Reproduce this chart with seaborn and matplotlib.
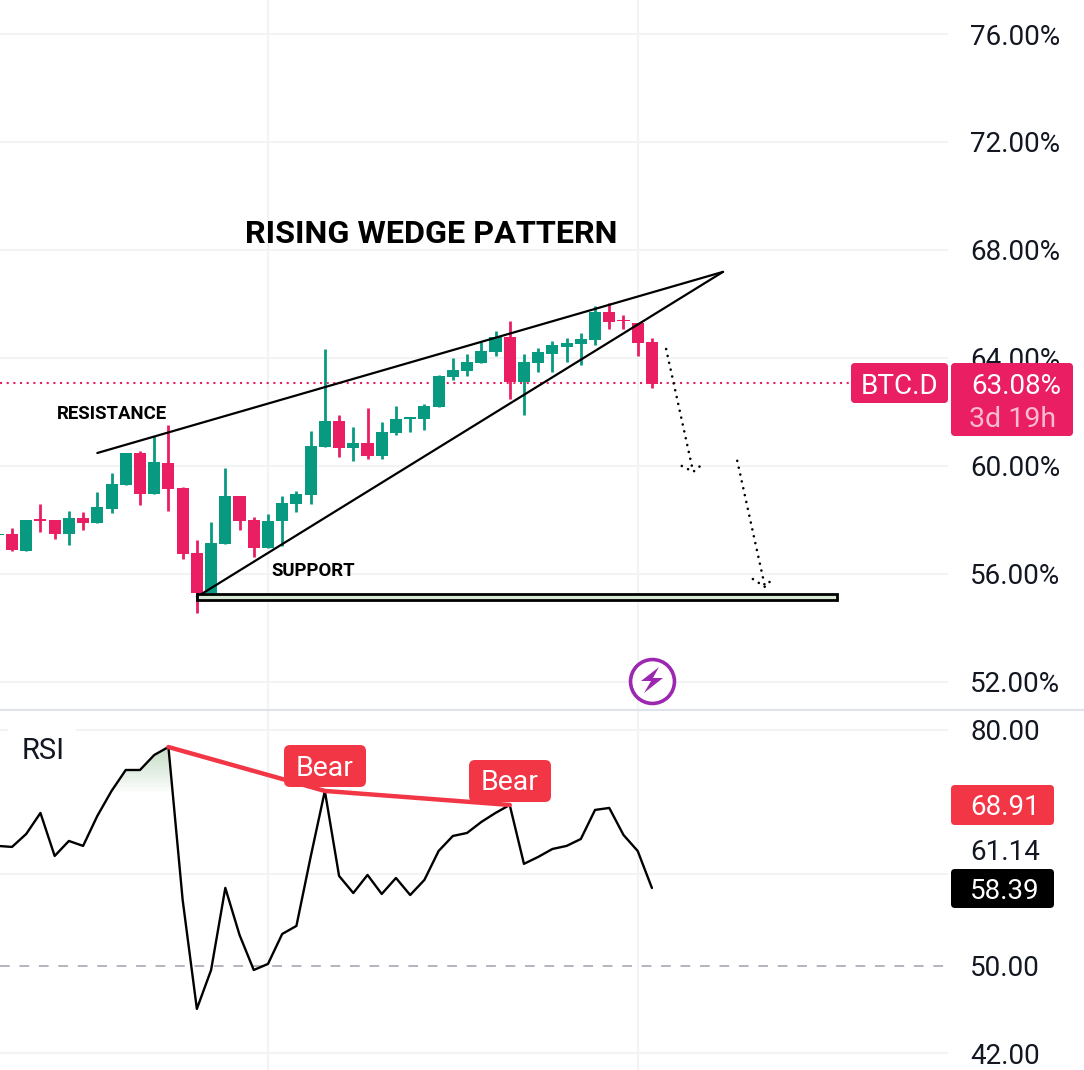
"""BTC.D rising wedge chart with RSI pane."""

import matplotlib.pyplot as plt
import numpy as np
import seaborn as sns
from matplotlib.patches import FancyBboxPatch, Polygon, Rectangle

sns.set_theme(style="white")
plt.rcParams["font.family"] = ["Roboto", "DejaVu Sans"]

W, H = 1084, 1070

GREEN = "#089981"
RED = "#e91e63"
BEAR = "#f23645"
GRID = "#f2f3f4"
INK = "#131722"

BAR_INDEX = list(range(-1, 46))
OPEN = [57.45, 57.48, 56.85, 58.04, 58.00, 57.48, 58.07, 57.89, 58.41, 59.30, 60.48, 58.96,
        60.11, 59.19, 56.78, 55.30, 57.11, 58.89, 58.00, 56.96, 57.96, 58.59, 58.93, 60.70,
        61.67, 60.67, 60.85, 60.37, 61.22, 61.74, 61.74, 62.19, 63.30, 63.52, 63.81, 64.22,
        64.78, 63.11, 63.81, 64.15, 64.41, 64.52, 64.67, 65.70, 65.41, 65.30, 64.59]
HIGH = [57.48, 57.70, 58.00, 58.59, 58.00, 58.33, 58.30, 59.04, 59.74, 60.48, 60.56, 61.11,
        61.52, 59.22, 57.26, 57.93, 59.93, 58.89, 58.11, 58.22, 58.89, 59.07, 61.30, 64.33,
        61.89, 61.44, 62.15, 61.63, 62.22, 61.81, 62.30, 63.37, 64.00, 64.15, 64.59, 65.00,
        65.37, 64.15, 64.37, 64.63, 64.74, 64.93, 65.93, 66.04, 65.59, 65.30, 64.74]
LOW = [57.45, 56.85, 56.85, 57.56, 57.30, 57.07, 57.63, 57.89, 58.26, 59.30, 58.56, 58.96,
       58.33, 56.56, 54.56, 55.30, 57.11, 57.63, 56.63, 56.96, 57.04, 58.30, 58.59, 60.70,
       60.33, 60.19, 60.26, 60.26, 61.15, 61.26, 61.33, 62.19, 63.19, 63.33, 63.81, 64.07,
       62.48, 61.89, 63.48, 63.48, 63.85, 63.74, 64.48, 65.07, 65.07, 64.07, 62.89]
CLOSE = [57.48, 56.89, 58.00, 57.96, 57.48, 58.07, 57.89, 58.48, 59.33, 60.48, 58.96, 60.15,
         59.15, 56.74, 55.30, 57.15, 58.89, 57.96, 56.96, 57.96, 58.63, 58.96, 60.74, 61.67,
         60.67, 60.85, 60.37, 61.26, 61.74, 61.81, 62.22, 63.33, 63.56, 63.85, 64.26, 64.78,
         63.11, 63.85, 64.22, 64.48, 64.56, 64.70, 65.70, 65.33, 65.37, 64.56, 63.04]
RSI = [63.50, 63.37, 65.03, 67.81, 62.24, 64.13, 63.50, 67.41, 70.85, 73.87, 73.87, 76.11,
       77.33, 57.02, 45.89, 49.59, 58.40, 53.18, 49.59, 50.19, 53.28, 54.14, 62.12, 70.85,
       59.81, 57.81, 59.93, 57.70, 59.57, 57.58, 59.34, 62.86, 64.77, 65.16, 66.60, 67.81,
       68.90, 61.27, 62.12, 63.11, 63.50, 64.38, 68.22, 68.49, 64.90, 62.86, 58.39]

PRICE_TICKS = [52, 56, 60, 64, 68, 72, 76]
PRICE_LABELS = ["52.00%", "56.00%", "60.00%", "64.00%", "68.00%", "72.00%", "76.00%"]
RSI_TICKS = [42, 50, 60, 80]
RSI_LABELS = ["42.00", "50.00", "", "80.00"]
TIME_GRID = [18, 44]
LAST_PRICE = 63.08

RESISTANCE_X, RESISTANCE_Y = [6, 50], [60.48, 67.19]
SUPPORT_X, SUPPORT_Y = [13, 50], [55.15, 67.19]
ZONE_X, ZONE_Y = [13, 58], [55.04, 55.26]
ARROW_1_X, ARROW_1_Y = [46.0, 47.9], [64.33, 59.78]
ARROW_1_HEAD_X, ARROW_1_HEAD_Y = [47.1, 47.9, 48.6], [60.00, 59.78, 60.09]
ARROW_2_X, ARROW_2_Y = [51.0, 52.95], [60.19, 55.52]
ARROW_2_HEAD_X, ARROW_2_HEAD_Y = [52.1, 52.95, 53.6], [55.81, 55.52, 55.89]
DIVERGENCE_X, DIVERGENCE_Y = [11, 22, 35], [77.33, 70.85, 68.90]
ICON_X, ICON_Y = 45, 52.05


def px_box(x0, y0, x1, y1, color, radius=4, zorder=5):
    """Rounded box given in picture pixels."""
    patch = FancyBboxPatch(
        (x0, H - y1), x1 - x0, y1 - y0,
        boxstyle=f"round,pad=0,rounding_size={radius}",
        facecolor=color, edgecolor="none", transform=None, zorder=zorder,
    )
    fig.patches.append(patch)
    patch.set_figure(fig)


def px_text(x, y, s, size, color=INK, ha="center", weight="normal"):
    fig.text(x / W, 1 - y / H, s, fontsize=size, color=color, ha=ha, va="center_baseline",
             fontweight=weight, zorder=10)


def dotted(ax, xs, ys):
    ax.plot(xs, ys, color="black", lw=1.9, linestyle=(0, (0.01, 2.65)),
            dash_capstyle="round", zorder=6)


fig = plt.figure(figsize=(W / 100, H / 100), dpi=100, facecolor="white")
ax = fig.add_axes([0, 1 - 710 / H, 948 / W, 710 / H])
rsi_ax = fig.add_axes([0, 0, 948 / W, 360 / H], sharex=ax)

for a in (ax, rsi_ax):
    for spine in a.spines.values():
        spine.set_visible(False)
    a.set_xlim(-0.844, 65.82)
    a.yaxis.tick_right()
    a.tick_params(axis="y", length=0, pad=16, labelsize=20, labelcolor=INK)
    a.tick_params(axis="x", length=0, labelbottom=False)
    a.set_xticks(TIME_GRID)
    a.grid(True, color=GRID, lw=1.5)
    a.set_axisbelow(True)
    a.set_xlabel("")
    a.set_ylabel("")

# candles
colors = [GREEN if c >= o else RED for o, c in zip(OPEN, CLOSE)]
ax.vlines(BAR_INDEX, LOW, HIGH, colors=colors, lw=2, zorder=2)
ax.bar(BAR_INDEX, np.abs(np.subtract(CLOSE, OPEN)), bottom=np.minimum(OPEN, CLOSE),
       width=0.85, color=colors, linewidth=0, zorder=3)
ax.set_ylim(50.96, 77.26)
ax.set_yticks(PRICE_TICKS)
ax.set_yticklabels(PRICE_LABELS)
ax.axhline(LAST_PRICE, color=RED, lw=1.5, linestyle=(0, (1, 2.2)), zorder=1)

# drawings on the price pane
ax.plot(RESISTANCE_X, RESISTANCE_Y, color="black", lw=1.6, zorder=5)
ax.plot(SUPPORT_X, SUPPORT_Y, color="black", lw=1.6, zorder=5)
ax.add_patch(Rectangle((ZONE_X[0], ZONE_Y[0]), ZONE_X[1] - ZONE_X[0], ZONE_Y[1] - ZONE_Y[0],
                       facecolor="#d9e8d5", edgecolor="black", lw=2, zorder=5))
dotted(ax, ARROW_1_X, ARROW_1_Y)
dotted(ax, ARROW_1_HEAD_X, ARROW_1_HEAD_Y)
dotted(ax, ARROW_2_X, ARROW_2_Y)
dotted(ax, ARROW_2_HEAD_X, ARROW_2_HEAD_Y)
ax.scatter([ICON_X], [ICON_Y], s=1000, facecolor="white", edgecolor="#9c27b0", lw=2.6, zorder=6)

# RSI pane
rsi_x, rsi_y = np.array(BAR_INDEX, dtype=float), np.array(RSI)
for level in np.linspace(70.85, 76.5, 10):
    rsi_ax.fill_between(rsi_x[:14], level, rsi_y[:14], where=rsi_y[:14] > level, interpolate=True,
                        color="#4c9a52", alpha=0.032, linewidth=0, zorder=1)
sns.lineplot(x=rsi_x, y=rsi_y, ax=rsi_ax, color="black", lw=1.7, zorder=4)
rsi_ax.plot(DIVERGENCE_X, DIVERGENCE_Y, color=BEAR, lw=3.2, solid_capstyle="round", zorder=5)
rsi_ax.set_yscale("log")
rsi_ax.set_ylim(40.63, 83.25)
rsi_ax.set_yticks(RSI_TICKS)
rsi_ax.set_yticklabels(RSI_LABELS)
rsi_ax.minorticks_off()
rsi_ax.yaxis.set_minor_locator(plt.NullLocator())
for line, tick in zip(rsi_ax.get_ygridlines(), RSI_TICKS):
    if tick == 50:
        line.set_color("#b2b5be")
        line.set_linestyle((0, (5, 5)))
        line.set_linewidth(1.4)

# pane divider
fig.add_artist(plt.Line2D([0, 1], [1 - 710 / H] * 2, color="#e0e3eb", lw=1.5))

# text drawn on the chart
px_text(431, 231, "RISING WEDGE PATTERN", 23.3, "black", weight="bold")
px_text(112, 411.5, "RESISTANCE", 13.4, "black", weight="bold")
px_text(313, 568.5, "SUPPORT", 13.4, "black", weight="bold")

px_box(8, 727, 76, 770, "white", radius=2, zorder=3)
px_text(43, 748, "RSI", 21)

# tags
px_box(851, 363, 948, 403, RED)
px_text(900, 384, "BTC.D", 20, "white")
px_box(951, 363, 1073, 436, RED)
px_text(1016, 384, "63.08%", 20, "white")
px_text(1013, 416.5, "3d 19h", 20.5, "#f8bbd0")

px_box(284, 745, 366, 787, BEAR, radius=6)
px_text(325, 765.5, "Bear", 20.5, "white")
px_box(469, 760, 551, 802, BEAR, radius=6)
px_text(510, 780, "Bear", 20.5, "white")

px_box(951, 785, 1054, 825, BEAR)
px_text(1005, 804.5, "68.91", 20, "white")
px_text(1005, 849.5, "61.14", 20)
px_box(951, 869, 1054, 908, "black")
px_text(1005, 888.5, "58.39", 20, "white")

# lightning bolt inside the icon ring
bolt = [(659, 667), (641, 681), (651, 681), (644, 693), (663, 678), (653, 678)]
fig.add_artist(Polygon([(x / W, 1 - y / H) for x, y in bolt], closed=True, facecolor="#9c27b0",
                       edgecolor="none", transform=fig.transFigure, zorder=8))

fig.savefig("out.png", dpi=100)
